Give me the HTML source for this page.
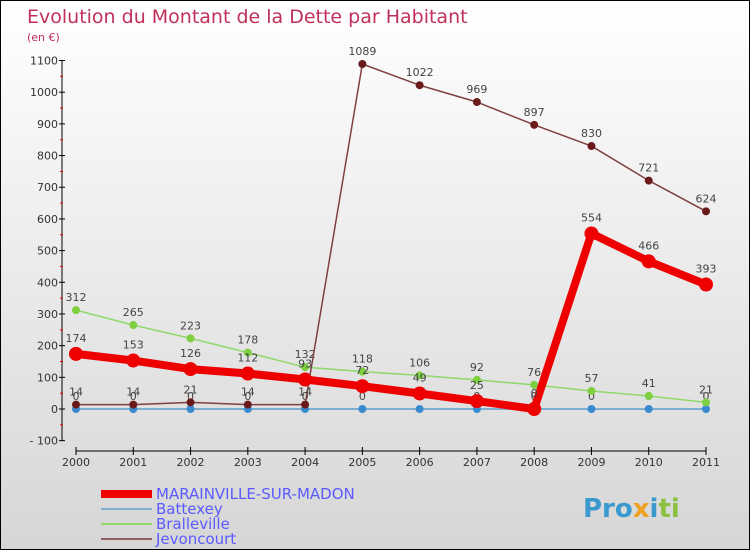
<!DOCTYPE html>
<html><head><meta charset="utf-8"><style>
body{margin:0}
#c{width:750px;height:550px;position:relative;box-sizing:border-box;border:1px solid #000;background:linear-gradient(#ffffff,#d6d6d6);font-family:"DejaVu Sans","Liberation Sans",sans-serif;overflow:hidden}
text{font-family:"DejaVu Sans","Liberation Sans",sans-serif}
</style></head><body>
<div id="c">
<svg id="s" width="750" height="550">
<text x="26" y="22" font-size="19" fill="#c0305a">Evolution du Montant de la Dette par Habitant</text>
<text x="26" y="40" font-size="11" fill="#c0305a">(en €)</text>
<g id="axes"></g><g id="series"></g>
<g>
<line x1="100" y1="493" x2="151" y2="493" stroke="#e00" stroke-width="8"/>
<text x="155" y="498" font-size="15" fill="#5a5aff">MARAINVILLE-SUR-MADON</text>
<line x1="100" y1="508" x2="151" y2="508" stroke="#7fafd0" stroke-width="2"/>
<text x="155" y="513" font-size="15" fill="#5a5aff">Battexey</text>
<line x1="100" y1="523" x2="151" y2="523" stroke="#8fd86a" stroke-width="2"/>
<text x="155" y="528" font-size="15" fill="#5a5aff">Bralleville</text>
<line x1="100" y1="538" x2="151" y2="538" stroke="#906060" stroke-width="2"/>
<text x="155" y="543" font-size="15" fill="#5a5aff">Jevoncourt</text>
</g>
<text x="582" y="516" font-size="26" font-weight="bold" fill="#3a9ad0">Pro<tspan fill="#f0a020">x</tspan><tspan fill="#3a9ad0">i</tspan><tspan fill="#8cc040">ti</tspan></text>
</svg>
</div>
<script>
const years=["2000","2001","2002","2003","2004","2005","2006","2007","2008","2009","2010","2011"];
const yTicks=[-100,0,100,200,300,400,500,600,700,800,900,1000,1100];
const marainville=[174,153,126,112,93,72,49,25,0,554,466,393];
const battexey=[0,0,0,0,0,0,0,0,0,0,0,0];
const bralleville=[312,265,223,178,132,118,106,92,76,57,41,21];
const jevoncourt=[14,14,21,14,14,1089,1022,969,897,830,721,624];
const NS="http://www.w3.org/2000/svg";
const X=i=>75+i*(630/11);
const Y=v=>408-v*0.3168;
function mk(t,a,p){const e=document.createElementNS(NS,t);for(const k in a)e.setAttribute(k,a[k]);p.appendChild(e);return e;}
const ax=document.getElementById('axes');
let l=mk('line',{x1:61,y1:Y(1100),x2:61,y2:Y(-100),stroke:'#000','stroke-width':1},ax);


l=mk('line',{x1:75,y1:450,x2:705,y2:450,stroke:'#000','stroke-width':1},ax);


yTicks.forEach((v,i)=>{
 mk('line',{x1:58,y1:Y(v),x2:64,y2:Y(v),stroke:'#000'},ax);
 if(i<yTicks.length-1)mk('line',{x1:59,y1:Y(v+50),x2:62,y2:Y(v+50),stroke:'#e00'},ax);
 const t=mk('text',{x:57,y:Y(v)+4,'font-size':11,fill:'#333','text-anchor':'end'},ax);
 t.textContent=v<0?'- '+(-v):v;
 
 
});
years.forEach((y,i)=>{
 mk('line',{x1:X(i),y1:446,x2:X(i),y2:454,stroke:'#000'},ax);
 const t=mk('text',{x:X(i),y:465,'font-size':11,fill:'#333','text-anchor':'middle'},ax);
 t.textContent=y;
 
 
});
const sg=document.getElementById('series');
function draw(name,data,color,w,r,dot,lab){
 const g=mk('g',{},sg);
 
 
 const p=mk('polyline',{points:data.map((v,i)=>X(i)+','+Y(v)).join(' '),fill:'none',stroke:color,'stroke-width':w,'stroke-linejoin':'round'},g);
 
 
 data.forEach((v,i)=>{
  const c=mk('circle',{cx:X(i),cy:Y(v),r:r,fill:dot},g);
  
  
  if(lab){const t=mk('text',{x:X(i),y:Y(v)-r-5,'font-size':11,fill:'#444','text-anchor':'middle'},g);
  t.textContent=v;
  
  }
 });
}
draw('battexey',battexey,'#7fafd0',2,4,'#3a8ad0',true);
draw('bralleville',bralleville,'#8fd86a',1.5,4,'#7fd040',true);
draw('jevoncourt',jevoncourt,'#804040',1.5,4,'#6a1a1a',true);
draw('marainville',marainville,'#ee0000',8,7,'#ee0000',true);
</script>
</body></html>
